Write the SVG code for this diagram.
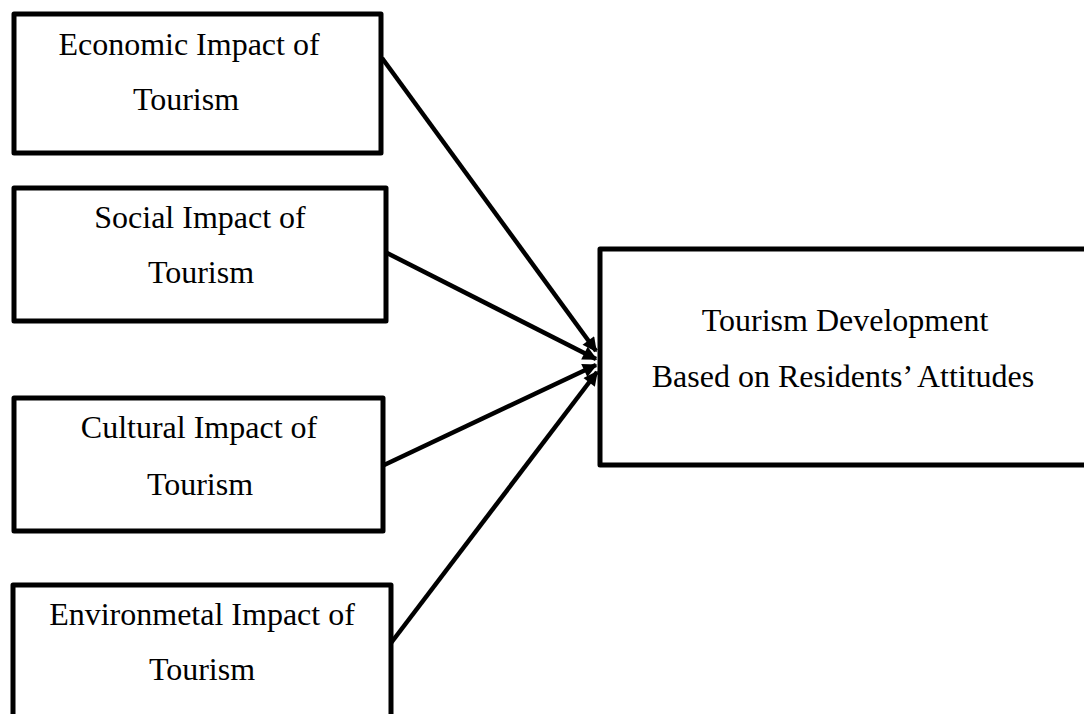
<svg xmlns="http://www.w3.org/2000/svg" width="1084" height="714" viewBox="0 0 1084 714">
<style>
.box{fill:#fff;stroke:#000;stroke-width:5;stroke-linejoin:round}
.t{font-family:"Liberation Serif","Times New Roman",serif;font-size:32px;fill:#000;text-anchor:middle}
.c{stroke:#000;stroke-width:4.5;fill:none}
</style>
<defs>
<marker id="ah" viewBox="0 0 10 10" refX="9" refY="5" markerWidth="3.6" markerHeight="3.2" orient="auto" markerUnits="strokeWidth">
<path d="M0,0 L10,5 L0,10 z" fill="#000"/>
</marker>
</defs>
<rect width="1084" height="714" fill="#fff"/>
<g id="n1"><rect class="box" x="14" y="14" width="367" height="139"/>
<text class="t" x="189" y="55">Economic Impact of</text><text class="t" x="186" y="110">Tourism</text></g>
<g id="n2"><rect class="box" x="14" y="188" width="372" height="133"/>
<text class="t" x="200" y="228">Social Impact of</text><text class="t" x="201" y="283">Tourism</text></g>
<g id="n3"><rect class="box" x="14" y="398" width="369" height="133"/>
<text class="t" x="199" y="438">Cultural Impact of</text><text class="t" x="200" y="495">Tourism</text></g>
<g id="n4"><rect class="box" x="13" y="585" width="378" height="160"/>
<text class="t" x="202" y="625">Environmetal Impact of</text><text class="t" x="202" y="680">Tourism</text></g>
<g id="n5"><rect class="box" x="600" y="249" width="520" height="216"/>
<text class="t" x="845" y="331">Tourism Development</text><text class="t" x="843" y="387">Based on Residents’ Attitudes</text></g>
<g id="connectors">
<line class="c" x1="382" y1="58" x2="596" y2="351" marker-end="url(#ah)"/>
<line class="c" x1="387" y1="253" x2="596" y2="359" marker-end="url(#ah)"/>
<line class="c" x1="382" y1="466" x2="596" y2="365" marker-end="url(#ah)"/>
<line class="c" x1="391" y1="643" x2="597" y2="372" marker-end="url(#ah)"/>
</g>
</svg>
